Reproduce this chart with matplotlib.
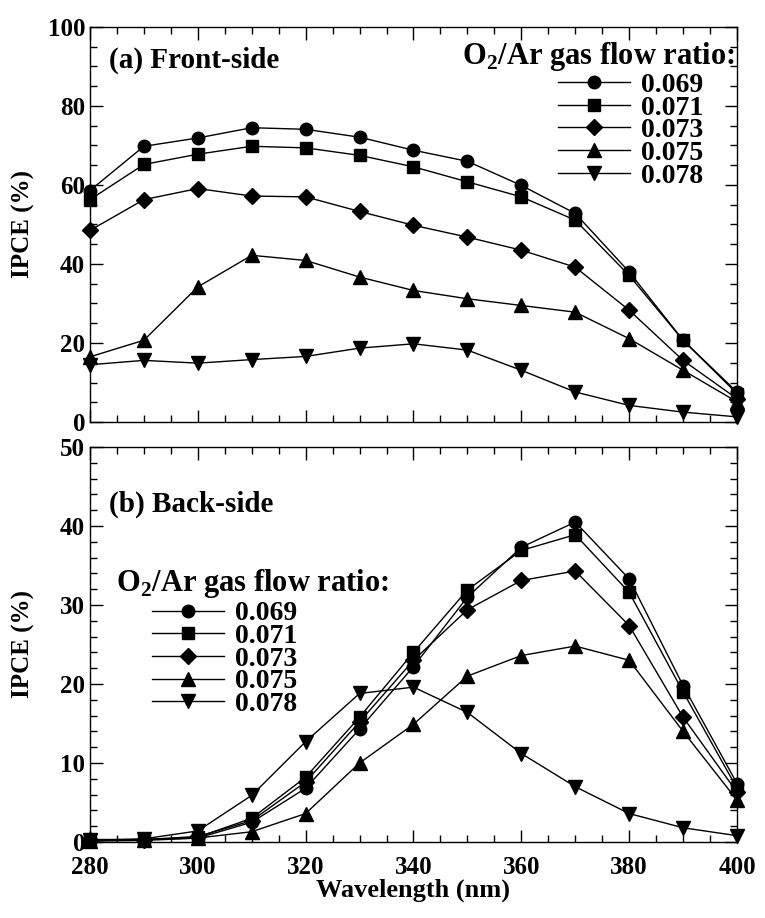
import numpy as np
import matplotlib
matplotlib.use("Agg")
import matplotlib.pyplot as plt
from matplotlib.ticker import MultipleLocator

plt.rcParams['font.family'] = 'Liberation Serif'
plt.rcParams['font.weight'] = 'bold'
plt.rcParams['mathtext.fontset'] = 'custom'
plt.rcParams['mathtext.rm'] = 'Liberation Serif:bold'
plt.rcParams['mathtext.bf'] = 'Liberation Serif:bold'

# data
wavelength = [280, 290, 300, 310, 320, 330, 340, 350, 360, 370, 380, 390, 400]
ratios = ["0.069", "0.071", "0.073", "0.075", "0.078"]
markers = ["o", "s", "D", "^", "v"]
msizes = [9, 8.5, 8, 10, 10]

front_069 = [58.6, 69.8, 71.9, 74.5, 74.1, 72.1, 68.8, 66.0, 59.9, 52.8, 38.0, 20.7, 7.6]
front_071 = [56.3, 65.2, 67.8, 69.8, 69.4, 67.5, 64.6, 60.8, 57.0, 51.1, 37.1, 20.7, 7.2]
front_073 = [48.5, 56.3, 59.1, 57.2, 57.0, 53.3, 49.8, 46.8, 43.5, 39.2, 28.3, 15.6, 5.9]
front_075 = [16.5, 20.7, 34.2, 42.2, 40.9, 36.7, 33.3, 31.2, 29.5, 27.8, 21.1, 13.1, 5.1]
front_078 = [14.5, 15.6, 14.9, 15.8, 16.6, 18.7, 19.8, 18.2, 13.1, 7.6, 4.2, 2.5, 1.3]

back_069 = [0.3, 0.3, 0.5, 2.5, 6.8, 14.3, 22.2, 31.0, 37.3, 40.5, 33.3, 19.8, 7.4]
back_071 = [0.3, 0.3, 0.6, 3.0, 8.2, 15.8, 24.0, 31.9, 36.9, 38.9, 31.6, 19.0, 6.8]
back_073 = [0.3, 0.3, 0.7, 2.7, 7.6, 15.2, 23.0, 29.4, 33.1, 34.3, 27.4, 15.8, 6.3]
back_075 = [0.1, 0.2, 0.5, 1.3, 3.6, 10.0, 14.9, 21.0, 23.6, 24.8, 23.0, 14.0, 5.3]
back_078 = [0.2, 0.4, 1.4, 5.9, 12.7, 18.8, 19.6, 16.4, 11.2, 7.0, 3.6, 1.8, 0.8]

front = [front_069, front_071, front_073, front_075, front_078]
back = [back_069, back_071, back_073, back_075, back_078]

fig = plt.figure(figsize=(7.65, 9.18), dpi=100)
ax1 = fig.add_axes([0.1176, 0.5403, 0.8458, 0.4303])
ax2 = fig.add_axes([0.1176, 0.0828, 0.8458, 0.4303])

for ax, series in [(ax1, front), (ax2, back)]:
    for vals, m, ms, lab in zip(series, markers, msizes, ratios):
        ax.plot(wavelength, vals, color='black', lw=1.0, marker=m, ms=ms,
                mfc='black', mec='black', label=lab, clip_on=False, zorder=3)
    ax.set_xlim(280, 400)
    ax.xaxis.set_major_locator(MultipleLocator(20))
    ax.xaxis.set_minor_locator(MultipleLocator(5))
    ax.tick_params(which='both', direction='in', top=True, right=True,
                   labelsize=18, width=1.0)
    ax.tick_params(which='major', length=9)
    ax.tick_params(which='minor', length=5)
    ax.tick_params(axis='x', pad=10)
    for sp in ax.spines.values():
        sp.set_linewidth(1.0)
    ax.set_ylabel("IPCE (%)", fontsize=18, fontweight='bold')
    ax.yaxis.set_label_coords(-0.085, 0.5)

ax1.set_ylim(0, 100)
ax1.yaxis.set_major_locator(MultipleLocator(20))
ax1.yaxis.set_minor_locator(MultipleLocator(5))
ax1.tick_params(labelbottom=False)

ax2.set_ylim(0, 50)
ax2.yaxis.set_major_locator(MultipleLocator(10))
ax2.yaxis.set_minor_locator(MultipleLocator(2))
ax2.set_xlabel("Wavelength (nm)", fontsize=19, fontweight='bold', labelpad=0)

ax1.text(0.03, 0.915, "(a) Front-side", transform=ax1.transAxes,
         fontsize=21, fontweight='bold', va='center', ha='left')
ax2.text(0.03, 0.855, "(b) Back-side", transform=ax2.transAxes,
         fontsize=21, fontweight='bold', va='center', ha='left')

# legends
ax1.text(0.997, 0.925, r"O$_2$/Ar gas flow ratio:", transform=ax1.transAxes,
         fontsize=22, va='center', ha='right')
leg1 = ax1.legend(loc='upper left', bbox_to_anchor=(0.723, 0.885), frameon=False,
                  fontsize=20, handlelength=2.6, handletextpad=0.4,
                  labelspacing=-0.1, borderpad=0, borderaxespad=0)
ax2.text(0.04, 0.655, r"O$_2$/Ar gas flow ratio:", transform=ax2.transAxes,
         fontsize=22, va='center', ha='left')
leg2 = ax2.legend(loc='upper left', bbox_to_anchor=(0.096, 0.61), frameon=False,
                  fontsize=20, handlelength=2.6, handletextpad=0.4,
                  labelspacing=-0.1, borderpad=0, borderaxespad=0)

fig.savefig("out.png", dpi=100)
